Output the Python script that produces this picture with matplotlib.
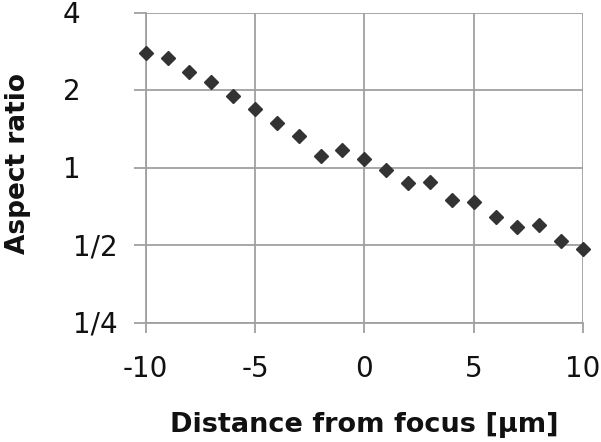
import matplotlib
matplotlib.use("Agg")
import matplotlib.pyplot as plt
import matplotlib.transforms as mtransforms

distance = [-10, -9, -8, -7, -6, -5, -4, -3, -2, -1, 0, 1, 2, 3, 4, 5, 6, 7, 8, 9, 10]
aspect = [2.80, 2.67, 2.35, 2.15, 1.90, 1.69, 1.49, 1.33, 1.11, 1.17, 1.08,
          0.98, 0.87, 0.88, 0.75, 0.735, 0.643, 0.588, 0.597, 0.517, 0.485]
x_ticks = [-10, -5, 0, 5, 10]
y_ticks = [0.25, 0.5, 1, 2, 4]
y_tick_labels = ["1/4", "1/2", "1", "2", "4"]
# horizontal centre of each y tick label, in figure pixels (layout only)
y_label_centers_px = [95, 95, 71.5, 71.5, 71.5]

plt.rcParams['font.family'] = ['DejaVu Sans']

W, H = 601, 442
fig = plt.figure(figsize=(W / 100, H / 100), dpi=100)
ax = fig.add_axes([145.7 / W, 1 - 322.7 / H, (583 - 145.7) / W, (322.7 - 12.7) / H])

grid_color = '#a0a0a0'
ax.set_yscale('log', base=2)
ax.set_xlim(-10, 10)
ax.set_ylim(0.25, 4)
ax.set_xticks(x_ticks)
ax.set_xticklabels([str(t) for t in x_ticks])
ax.set_yticks(y_ticks)
ax.set_yticklabels([])
ax.minorticks_off()
ax.grid(True, color=grid_color, linewidth=1.3)
ax.set_axisbelow(True)
for s in ['top', 'right']:
    ax.spines[s].set_visible(False)
for s in ['left', 'bottom']:
    ax.spines[s].set_color(grid_color)
    ax.spines[s].set_linewidth(1.3)
ax.tick_params(axis='y', length=9, width=1.3, color=grid_color)
ax.tick_params(axis='x', length=7, width=1.3, color=grid_color, labelsize=20, pad=16,
               labelcolor='#111111')

# y tick labels as text placed at their tick values
trans = mtransforms.blended_transform_factory(fig.transFigure, ax.transData)
down = mtransforms.ScaledTranslation(0, -10 / 100, fig.dpi_scale_trans)
for val, lab, cx in zip(y_ticks, y_tick_labels, y_label_centers_px):
    ax.text(cx / W, val, lab, transform=trans + down, ha='center', va='baseline',
            fontsize=20, color='#111111', clip_on=False)

ax.plot(distance, aspect, linestyle='none', marker='D', markersize=7,
        color='#333333', clip_on=False, zorder=3)

fig.text(364 / W, 1 - 432 / H, 'Distance from focus [µm]', ha='center', va='baseline',
         fontsize=19.5, fontweight='bold', color='#111111')
fig.text(25 / W, 1 - 163.5 / H, 'Aspect ratio', rotation=90, rotation_mode='anchor',
         ha='center', va='baseline', fontsize=19, fontweight='bold', color='#111111')

fig.savefig('out.png', dpi=100)
